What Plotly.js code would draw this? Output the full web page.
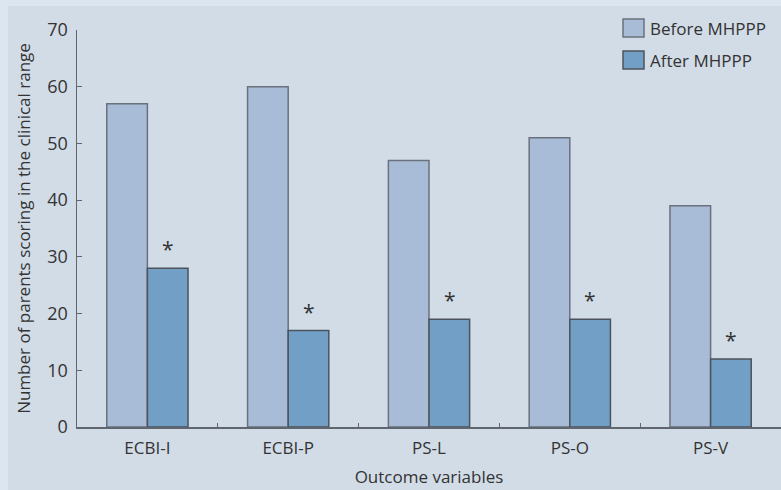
<!DOCTYPE html>
<html>
<head>
<meta charset="utf-8">
<script src="https://cdn.plot.ly/plotly-3.0.1.min.js"></script>
<style>html,body{margin:0;padding:0;background:#dce6f0;}#chart{width:781px;height:490px;}</style>
</head>
<body>
<div id="chart"></div>
<script>
const categories = ["ECBI-I", "ECBI-P", "PS-L", "PS-O", "PS-V"];
const beforeValues = [57, 60, 47, 51, 39];
const afterValues = [28, 17, 19, 19, 12];
const significant = ["*", "*", "*", "*", "*"];
const seriesNames = ["Before MHPPP", "After MHPPP"];
const seriesColors = ["#a8bcd7", "#729fc5"];
const seriesEdges = ["#6a717c", "#4d535c"];
const yTicks = [0, 10, 20, 30, 40, 50, 60, 70];

const FONT = "Open Sans, Noto Sans, sans-serif";
const TXT = "#333333";

const traces = seriesNames.map((name, k) => ({
  type: "bar", name: name, x: categories, y: k === 0 ? beforeValues : afterValues,
  marker: {color: seriesColors[k], line: {color: seriesEdges[k], width: 1.5}},
  showlegend: false, hoverinfo: "x+y"
}));

const annotations = categories.map((c, i) => ({
  x: c, y: afterValues[i], xref: "x", yref: "y",
  text: significant[i], showarrow: false,
  xshift: 20.5, yshift: 3, yanchor: "bottom",
  font: {family: FONT, size: 21, color: TXT}
}));

// custom legend (larger swatches, as in the reference)
const legendY = [1.005, 0.9244];
const shapes = [{
  type: "rect", xref: "paper", yref: "paper", layer: "below",
  x0: -0.098, x1: 1.01, y0: -0.2, y1: 1.0605,
  fillcolor: "#d2dce7", line: {width: 0}
}];
seriesNames.forEach((name, k) => {
  shapes.push({
    type: "rect", xref: "paper", yref: "paper",
    x0: 0.7756, x1: 0.8054, y0: legendY[k] - 0.0227, y1: legendY[k] + 0.0227,
    fillcolor: seriesColors[k], line: {color: seriesEdges[k], width: 1.5}
  });
  annotations.push({
    xref: "paper", yref: "paper", x: 0.811, y: legendY[k],
    xanchor: "left", yanchor: "middle", showarrow: false, text: name,
    font: {family: FONT, size: 17, color: TXT}
  });
});

const layout = {
  width: 781, height: 490,
  margin: {l: 77, r: 0, t: 30, b: 63},
  paper_bgcolor: "#dce6f0",
  plot_bgcolor: "rgba(0,0,0,0)",
  font: {family: FONT, color: TXT, size: 16},
  barmode: "group", bargap: 0.423, bargroupgap: 0,
  showlegend: false,
  xaxis: {
    type: "category", range: [-0.5, 4.5],
    showline: true, linecolor: "#5f6670", linewidth: 1.5,
    ticks: "inside", tickson: "boundaries", ticklen: 4, tickcolor: "#5f6670",
    ticklabelstandoff: 5,
    tickfont: {family: FONT, size: 17, color: TXT},
    showgrid: false, zeroline: false,
    title: {text: "Outcome variables", font: {family: FONT, size: 17, color: TXT}, standoff: 13}
  },
  yaxis: {
    range: [0, 70], tickvals: yTicks, ticktext: yTicks.map(String),
    showline: true, linecolor: "#5f6670", linewidth: 1.5,
    ticks: "inside", ticklen: 5, tickcolor: "#5f6670",
    ticklabelstandoff: 4,
    tickfont: {family: FONT, size: 18, color: TXT},
    showgrid: false, zeroline: false,
    title: {text: "Number of parents scoring in the clinical range", font: {family: FONT, size: 17, color: TXT}, standoff: 12}
  },
  shapes: shapes,
  annotations: annotations
};

Plotly.newPlot("chart", traces, layout, {displayModeBar: false, staticPlot: true});
</script>
</body>
</html>
